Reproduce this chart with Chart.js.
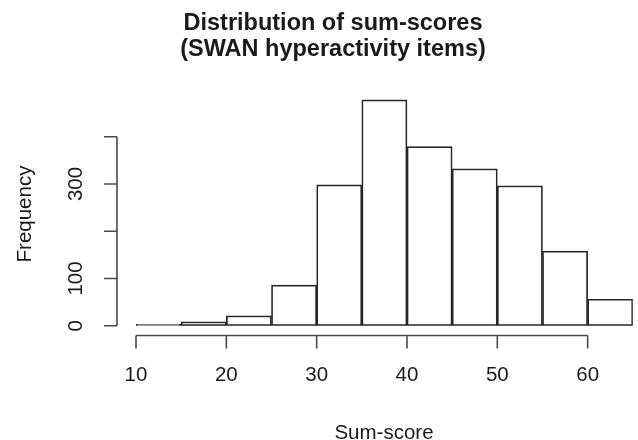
<!DOCTYPE html>
<html>
<head>
<meta charset="utf-8">
<script src="https://cdn.jsdelivr.net/npm/chart.js@4"></script>
<style>
  html, body { margin: 0; padding: 0; background: #fff; }
  #wrap { width: 638px; height: 440px; }
</style>
</head>
<body>
<div id="wrap"><canvas id="histCanvas" width="638" height="440"></canvas></div>
<script>
// histogram bins (width 5) and counts
const binStarts = [10, 15, 20, 25, 30, 35, 40, 45, 50, 55, 60];
const binWidth = 5;
const counts = [3, 8, 21, 86, 298, 478, 379, 332, 296, 158, 56];
const xTicks = [10, 20, 30, 40, 50, 60];
const yTicks = [0, 100, 200, 300, 400];
const yTickLabels = ["0", "100", "", "300", ""];

const titleLines = ["Distribution of sum-scores", "(SWAN hyperactivity items)"];
const xTitle = "Sum-score";
const yTitle = "Frequency";

const FONT = "'Liberation Sans', Arial, Helvetica, sans-serif";
const INK = "#1a1a1a";
const LINE = "#262626";
const AXIS = "#4a4a4a";

// R-style detached axes + titles
const rAxes = {
  id: "rAxes",
  afterDraw(chart) {
    const { ctx, scales: { x, y } } = chart;
    ctx.save();
    ctx.strokeStyle = AXIS;
    ctx.lineWidth = 1.6;
    ctx.fillStyle = INK;

    // x axis
    const axY = 335.5;
    ctx.beginPath();
    ctx.moveTo(x.getPixelForValue(xTicks[0]), axY);
    ctx.lineTo(x.getPixelForValue(xTicks[xTicks.length - 1]), axY);
    xTicks.forEach(t => {
      const px = x.getPixelForValue(t);
      ctx.moveTo(px, axY);
      ctx.lineTo(px, axY + 13);
    });
    ctx.stroke();
    ctx.font = "20.5px " + FONT;
    ctx.textAlign = "center";
    ctx.textBaseline = "middle";
    xTicks.forEach(t => ctx.fillText(String(t), x.getPixelForValue(t), 375));

    // y axis
    const axX = 117;
    ctx.beginPath();
    ctx.moveTo(axX, y.getPixelForValue(yTicks[0]));
    ctx.lineTo(axX, y.getPixelForValue(yTicks[yTicks.length - 1]));
    yTicks.forEach(t => {
      const py = y.getPixelForValue(t);
      ctx.moveTo(axX, py);
      ctx.lineTo(axX - 13, py);
    });
    ctx.stroke();
    yTicks.forEach((t, i) => {
      if (!yTickLabels[i]) return;
      ctx.save();
      ctx.translate(76, y.getPixelForValue(t));
      ctx.rotate(-Math.PI / 2);
      ctx.fillText(yTickLabels[i], 0, 0);
      ctx.restore();
    });

    // axis titles
    ctx.fillText(xTitle, 384, 433);
    ctx.save();
    ctx.translate(25, 214);
    ctx.rotate(-Math.PI / 2);
    ctx.fillText(yTitle, 0, 0);
    ctx.restore();

    // main title
    ctx.font = "bold 23.5px " + FONT;
    ctx.fillText(titleLines[0], 333, 24);
    ctx.fillText(titleLines[1], 333, 50);
    ctx.restore();
  }
};

new Chart(document.getElementById("histCanvas"), {
  type: "bar",
  data: {
    datasets: [{
      label: "Frequency",
      data: binStarts.map((b, i) => ({ x: b + binWidth / 2, y: counts[i] })),
      backgroundColor: "#ffffff",
      borderColor: LINE,
      borderWidth: 1.7,
      borderSkipped: false,
      barPercentage: 1,
      categoryPercentage: 1,
      grouped: false
    }]
  },
  options: {
    responsive: false,
    animation: false,
    devicePixelRatio: 1,
    layout: { padding: { left: 136, right: 5.2, top: 89.45, bottom: 114.3 } },
    plugins: { legend: { display: false }, title: { display: false }, tooltip: { enabled: false } },
    scales: {
      x: { type: "linear", min: 10, max: 65, offset: false, display: false },
      y: { min: 0, max: 500, display: false }
    }
  },
  plugins: [rAxes]
});
</script>
</body>
</html>
